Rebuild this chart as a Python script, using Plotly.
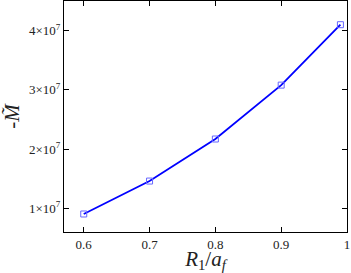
import plotly.graph_objects as go

# data
r_over_af = [0.6, 0.7, 0.8, 0.9, 0.99]
minus_m = [0.904e7, 1.46e7, 2.17e7, 3.08e7, 4.1e7]

x_ticks = [0.6, 0.7, 0.8, 0.9, 1.0]
x_ticktext = ["0.6", "0.7", "0.8", "0.9", "1"]
y_ticks = [1e7, 2e7, 3e7, 4e7]
y_ticktext = ["%d×10<sup>7</sup>" % k for k in range(1, 5)]

font = "Liberation Serif"

fig = go.Figure()
fig.add_trace(go.Scatter(
    x=r_over_af, y=minus_m, mode="lines+markers",
    line=dict(color="#0000ff", width=1.8),
    marker=dict(symbol="square-open", size=6, color="#6666ff", line=dict(width=1)),
    showlegend=False, cliponaxis=False,
))

axis_common = dict(
    showgrid=False, zeroline=False, showline=True, linecolor="black", linewidth=1.2,
    mirror="ticks", ticks="inside", ticklen=5, tickcolor="black",
    tickfont=dict(family=font, size=13, color="#222222"),
)

fig.update_xaxes(
    range=[0.57, 1.0], tickvals=x_ticks, ticktext=x_ticktext,
    title=dict(text="<i>R</i><sub>1</sub>/<i>a</i><sub><i>f</i></sub>",
               font=dict(family=font, size=21, color="#222222"), standoff=5),
    **axis_common,
)
fig.update_yaxes(
    range=[0.6e7, 4.5e7], tickvals=y_ticks, ticktext=y_ticktext,
    title=dict(text="-<i>M\u0303</i>",
               font=dict(family=font, size=21, color="#222222"), standoff=7),
    **axis_common,
)

fig.update_layout(
    width=351, height=273,
    margin=dict(l=64, r=4, t=1, b=41),
    paper_bgcolor="white", plot_bgcolor="white",
)

fig.write_html("out.html", config={"displayModeBar": False},
               post_script="document.body.style.margin='0';")
